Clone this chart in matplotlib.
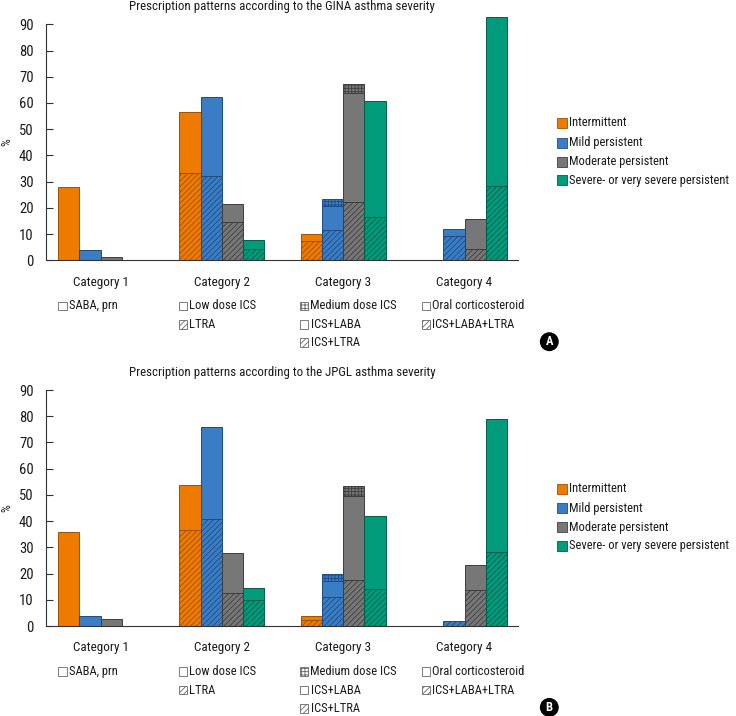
import matplotlib
matplotlib.use("Agg")
import matplotlib.pyplot as plt
from matplotlib.patches import Rectangle

plt.rcParams['font.family'] = ['Roboto Condensed', 'DejaVu Sans']
plt.rcParams['hatch.linewidth'] = 0.6

categories = ["Category 1", "Category 2", "Category 3", "Category 4"]
severities = ["Intermittent", "Mild persistent", "Moderate persistent", "Severe- or very severe persistent"]
yticks = [0, 10, 20, 30, 40, 50, 60, 70, 80, 90]

# segment values per severity [Intermittent, Mild, Moderate, Severe], bottom -> top
gina_cat1_saba = [28.0, 3.8, 1.3, 0.0]
gina_cat2_ltra = [33.2, 32.0, 14.5, 4.3]
gina_cat2_low_ics = [23.5, 30.4, 7.0, 3.3]
gina_cat3_ics_ltra = [7.2, 11.4, 22.4, 16.4]
gina_cat3_ics_laba = [2.7, 9.4, 41.5, 44.4]
gina_cat3_medium_ics = [0.0, 2.5, 3.5, 0.0]
gina_cat4_ics_laba_ltra = [0.0, 9.2, 4.3, 28.2]
gina_cat4_ocs = [0.0, 2.6, 11.5, 64.6]

jpgl_cat1_saba = [35.8, 3.7, 2.7, 0.0]
jpgl_cat2_ltra = [36.7, 40.7, 12.7, 9.9]
jpgl_cat2_low_ics = [16.9, 35.1, 15.3, 4.5]
jpgl_cat3_ics_ltra = [2.2, 10.9, 17.4, 14.1]
jpgl_cat3_ics_laba = [1.6, 6.4, 32.0, 27.7]
jpgl_cat3_medium_ics = [0.0, 2.5, 4.0, 0.0]
jpgl_cat4_ics_laba_ltra = [0.0, 1.9, 13.6, 28.2]
jpgl_cat4_ocs = [0.0, 0.0, 9.7, 50.6]

titles = ["Prescription patterns according to the GINA asthma severity",
          "Prescription patterns according to the JPGL asthma severity"]
panel_letters = ["A", "B"]

fills = ["#EE7A00", "#3A7DC5", "#777777", "#009B7B"]
edges = ["#9E5000", "#1E4C82", "#3E3E3E", "#005E4A"]

# legend keys for treatments: (label, style)
treat_legend = [
    [("SABA, prn", "plain")],
    [("Low dose ICS", "plain"), ("LTRA", "hatch")],
    [("Medium dose ICS", "grid"), ("ICS+LABA", "plain"), ("ICS+LTRA", "hatch")],
    [("Oral corticosteroid", "plain"), ("ICS+LABA+LTRA", "hatch")],
]
hatch_map = {"plain": None, "hatch": "//////", "grid": "+++++"}

panels = [
    [[(gina_cat1_saba, "plain")],
     [(gina_cat2_ltra, "hatch"), (gina_cat2_low_ics, "plain")],
     [(gina_cat3_ics_ltra, "hatch"), (gina_cat3_ics_laba, "plain"), (gina_cat3_medium_ics, "grid")],
     [(gina_cat4_ics_laba_ltra, "hatch"), (gina_cat4_ocs, "plain")]],
    [[(jpgl_cat1_saba, "plain")],
     [(jpgl_cat2_ltra, "hatch"), (jpgl_cat2_low_ics, "plain")],
     [(jpgl_cat3_ics_ltra, "hatch"), (jpgl_cat3_ics_laba, "plain"), (jpgl_cat3_medium_ics, "grid")],
     [(jpgl_cat4_ics_laba_ltra, "hatch"), (jpgl_cat4_ocs, "plain")]],
]

W, H = 736, 716
fig = plt.figure(figsize=(W / 100, H / 100), dpi=100)

def fx(x):
    return x / W

def fy(y):
    return 1 - y / H

FS = 9
TXT = '#1a1a1a'
pxu = 2.622        # pixels per percent
ytop = 93.5
zero_px = [260.3, 626.0]
ax_left, ax_right = 46, 518
w = 0.1756
xlim = (-0.450, 3.441)

for p in range(2):
    z = zero_px[p]
    top = z - ytop * pxu
    ax = fig.add_axes([fx(ax_left), fy(z), fx(ax_right) - fx(ax_left), (z - top) / H])
    for c in range(4):
        for s in range(4):
            xpos = c + (s - 1.5) * w
            bottom = 0.0
            for vals, style in panels[p][c]:
                v = vals[s]
                if v > 0:
                    ax.bar(xpos, v, width=w, bottom=bottom, color=fills[s],
                           edgecolor=edges[s], linewidth=0.7, hatch=hatch_map[style],
                           align='center')
                bottom += v
    ax.set_xlim(*xlim)
    ax.set_ylim(0, ytop)
    ax.set_yticks(yticks)
    ax.set_yticklabels([str(t) for t in yticks], fontsize=FS + 1.5, color=TXT)
    ax.set_xticks(range(4))
    ax.set_xticklabels(categories, fontsize=FS + 0.5, color=TXT)
    ax.tick_params(axis='x', length=0, pad=11)
    ax.tick_params(axis='y', direction='in', length=5, width=0.8, pad=9, color='#333333')
    for sp in ['top', 'right']:
        ax.spines[sp].set_visible(False)
    ax.spines['left'].set_bounds(0, 90)
    ax.spines['left'].set_color('#333333')
    ax.spines['bottom'].set_color('#333333')
    ax.patch.set_alpha(0)
    fig.text(fx(282), fy(z - 253.5), titles[p], fontsize=FS + 0.3, ha='center', va='center', color=TXT)
    fig.text(fx(7), fy(z - 45 * pxu), "%", rotation=90, fontsize=FS, ha='center', va='center', color=TXT)

    # severity legend
    leg_offsets = [137.3, 117.6, 98.6, 80.0]
    for s in range(4):
        yc = z - leg_offsets[s]
        fig.patches.append(Rectangle((fx(556.7), fy(yc + 5)), 10 / W, 10 / H,
                                     transform=fig.transFigure, facecolor=fills[s],
                                     edgecolor=edges[s], linewidth=0.6))
        fig.text(fx(569), fy(yc), severities[s], fontsize=FS, va='center', ha='left', color=TXT)

    # treatment legend
    box_x = [58.3, 178.8, 300.0, 421.5]
    row_off = [45.5, 64.0, 82.4]
    for c in range(4):
        for r, (lab, style) in enumerate(treat_legend[c]):
            yc = z + row_off[r]
            fig.patches.append(Rectangle((fx(box_x[c]), fy(yc + 4.2)), 8.4 / W, 8.4 / H,
                                         transform=fig.transFigure, facecolor='white',
                                         edgecolor='#666666', linewidth=0.6,
                                         hatch=hatch_map[style]))
            fig.text(fx(box_x[c] + 10.5), fy(yc), lab, fontsize=FS, va='center', ha='left', color=TXT)

    fig.text(fx(549.3), fy(z + 81.4), panel_letters[p], fontsize=FS, fontweight='bold',
             color='white', ha='center', va='center',
             bbox=dict(boxstyle='circle,pad=0.18', facecolor='black', edgecolor='black'))

fig.savefig("out.png", dpi=100)
